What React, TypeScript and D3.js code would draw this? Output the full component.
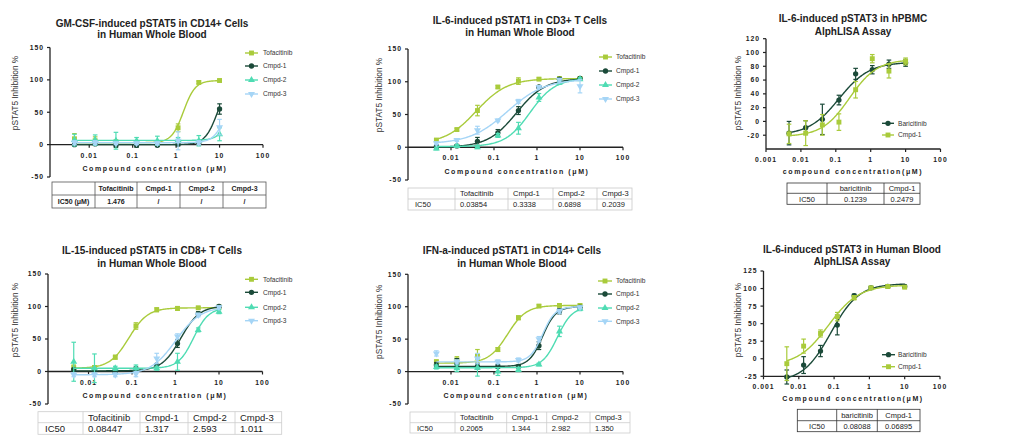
import * as d3 from 'd3'

// 3-fold dilution series used in every assay (µM)
const doses = [0.00457, 0.0137, 0.0412, 0.123, 0.37, 1.11, 3.33, 10]

const jakNames = ['Tofacitinib', 'Cmpd-1', 'Cmpd-2', 'Cmpd-3']
const alphaNames = ['Baricitinib', 'Cmpd-1']

const LIME = '#a9cb3b'
const DARK = '#1b4a39'
const TEAL = '#4fdcb3'
const SKY = '#a5d5f6'

const jakColors = [LIME, DARK, TEAL, SKY]
const jakMarkers = ['square', 'circle', 'up', 'down']
const alphaColors = [DARK, LIME]
const alphaMarkers = ['circle', 'square']

// fit params per series: [bottom, top, IC50, hill]
const gmcsfMean = [
  [9, 6, 4, 3, 2, 26, 96, 99],
  [0, 1, -1, -1, -1, 1, 3, 55],
  [7, 7, 6, 6, 6, 7, 6, 16],
  [3, 3, 2, 2, 2, 6, 3, 27],
]
const gmcsfErr = [
  [8, 6, 3, 2, 2, 6, 2, 2],
  [2, 2, 3, 3, 2, 3, 2, 8],
  [9, 8, 13, 5, 7, 4, 8, 10],
  [3, 3, 2, 2, 2, 14, 3, 12],
]
const gmcsfFit = [[3, 99, 1.476, 3.2], [0, 100, 9, 3], [6.5, 100, 20, 3], [3, 100, 15, 3]]
const gmcsfIC50 = ['1.476', '/', '/', '/']

const il6Mean = [
  [11, 27, 56, 92, 101, 104, 105, 105],
  [1, 2, 9, 22, 56, 92, 104, 105],
  [-2, 2, 0, 18, 29, 76, 99, 104],
  [6, 11, 26, 41, 70, 92, 103, 93],
]
const il6Err = [
  [2, 2, 8, 2, 5, 2, 1, 1],
  [3, 2, 6, 5, 6, 2, 2, 1],
  [2, 2, 2, 3, 9, 6, 3, 2],
  [2, 2, 6, 2, 3, 2, 2, 10],
]
const il6Fit = [[5, 105, 0.03854, 1.2], [0, 105, 0.3338, 1.3], [1, 105, 0.6898, 1.5], [5, 104, 0.2039, 1.0]]
const il6IC50 = ['0.03854', '0.3338', '0.6898', '0.2039']

const pbmcMean = [
  [-17, -9, 3, 31, 69, 75, 83, 85],
  [-18, -17, -5, -1, 46, 91, 73, 87],
]
const pbmcErr = [
  [17, 10, 22, 7, 8, 6, 6, 5],
  [14, 18, 15, 12, 12, 6, 10, 5],
]
const pbmcFit = [[-20, 86, 0.1239, 1.0], [-22, 90, 0.2479, 1.1]]
const pbmcIC50 = ['0.1239', '0.2479']

const il15Mean = [
  [6, 6, 22, 70, 95, 97, 98, 99],
  [3, 2, -2, 4, 10, 43, 89, 100],
  [15, 5, 5, 5, 5, 15, 64, 92],
  [-5, -5, -5, -4, 20, 54, 87, 99],
]
const il15Err = [
  [4, 3, 3, 5, 3, 3, 2, 1],
  [2, 2, 2, 3, 2, 6, 3, 2],
  [30, 22, 3, 5, 3, 13, 3, 3],
  [3, 3, 3, 4, 8, 4, 3, 2],
]
const il15Fit = [[5, 98, 0.08447, 2.0], [1, 101, 1.317, 2.0], [5, 98, 2.593, 2.5], [-5, 100, 1.011, 1.5]]
const il15IC50 = ['0.08447', '1.317', '2.593', '1.011']

const ifnMean = [
  [15, 18, 24, 34, 83, 101, 102, 102],
  [10, 12, 8, 8, 8, 40, 93, 99],
  [7, 5, 6, 0, 3, 11, 62, 97],
  [28, 15, 20, 15, 18, 50, 93, 99],
]
const ifnErr = [
  [3, 5, 10, 3, 3, 2, 2, 2],
  [4, 8, 4, 3, 2, 6, 4, 3],
  [3, 5, 13, 6, 3, 2, 8, 3],
  [4, 3, 8, 3, 3, 4, 3, 2],
]
const ifnFit = [[13, 102, 0.2065, 2.0], [8, 100, 1.344, 2.8], [6, 100, 2.982, 2.5], [15, 100, 1.35, 3]]
const ifnIC50 = ['0.2065', '1.344', '2.982', '1.350']

const bloodMean = [
  [-26, -9, 11, 48, 90, 101, 103, 103],
  [-7, 18, 36, 60, 87, 101, 103, 102],
]
const bloodErr = [
  [10, 12, 8, 14, 2, 2, 2, 2],
  [24, 10, 5, 6, 3, 2, 2, 2],
]
const bloodFit = [[-33, 107, 0.08088, 1.1], [-10, 105, 0.06895, 1.0]]
const bloodIC50 = ['0.08088', '0.06895']

const FONT = '"Liberation Sans", Arial, sans-serif'

type Table = {
  cols: number[]
  rows: number[]
  header: string[]
  values: string[]
  bold: boolean
  border: string
  size: number
  center: boolean
}

type Cfg = {
  title: string[]
  titleX: number
  titleY: number[]
  xRange: number[]
  xDomain: number[]
  yRange: number[]
  yDomain: number[]
  yTicks: number[]
  xTicks: number[]
  xAxisAt: number
  xLabel: string
  xLabelPos: number[]
  yLabelPos: number[]
  names: string[]
  colors: string[]
  markers: string[]
  mean: number[][]
  err: number[][]
  fit: number[][]
  legend: { x1: number; x2: number; tx: number; ys: number[] }
  table: Table
}

const logistic = (d: number, f: number[]) => f[0] + (f[1] - f[0]) / (1 + Math.pow(f[2] / d, f[3]))

function symbolPath(kind: string, size: number) {
  const t = kind === 'square' ? d3.symbolSquare : kind === 'circle' ? d3.symbolCircle : d3.symbolTriangle
  return d3.symbol().type(t).size(size)() as string
}

function Marker({ kind, x, y, color }: { kind: string; x: number; y: number; color: string }) {
  const size = kind === 'circle' ? 22 : kind === 'square' ? 24 : 21
  const rot = kind === 'down' ? ' rotate(180)' : ''
  return <path d={symbolPath(kind, size)} transform={`translate(${x},${y})${rot}`} fill={color} />
}

function fmtDose(v: number) {
  return v >= 1 ? String(v) : String(+v.toPrecision(1))
}

function Panel({ c }: { c: Cfg }) {
  const x = d3.scaleLog().domain(c.xDomain).range(c.xRange)
  const y = d3.scaleLinear().domain(c.yDomain).range(c.yRange)
  const axisY = y(c.xAxisAt)
  const lo = Math.log10(doses[0])
  const hi = Math.log10(doses[doses.length - 1])
  const grid = d3.range(0, 151).map(i => Math.pow(10, lo + ((hi - lo) * i) / 150))

  const t = c.table
  return (
    <g fontFamily={FONT}>
      {c.title.map((s, i) => (
        <text key={i} x={c.titleX} y={c.titleY[i]} textAnchor="middle" fontSize={10} fontWeight="bold" fill="#222">
          {s}
        </text>
      ))}

      {/* y axis */}
      <line x1={c.xRange[0]} x2={c.xRange[0]} y1={c.yRange[0]} y2={c.yRange[1]} stroke="#222" strokeWidth={1.3} />
      {c.yTicks.map(v => (
        <g key={v}>
          <line x1={c.xRange[0] - 3} x2={c.xRange[0]} y1={y(v)} y2={y(v)} stroke="#222" strokeWidth={1.2} />
          <text x={c.xRange[0] - 6} y={y(v) + 2.4} textAnchor="end" fontSize={6.8} fontWeight="bold" letterSpacing={1} fill="#222">
            {v}
          </text>
        </g>
      ))}
      <text
        transform={`translate(${c.yLabelPos[0]},${c.yLabelPos[1]}) rotate(-90)`}
        textAnchor="middle"
        fontSize={8.3}
        fill="#333"
        dy="0.35em"
      >
        pSTAT5 Inhibition %
      </text>

      {/* x axis */}
      <line x1={c.xRange[0]} x2={c.xRange[1]} y1={axisY} y2={axisY} stroke="#222" strokeWidth={1.3} />
      {c.xTicks.map(v => (
        <g key={v}>
          <line x1={x(v)} x2={x(v)} y1={axisY} y2={axisY + 3} stroke="#222" strokeWidth={1.2} />
          <text x={x(v)} y={axisY + 13} textAnchor="middle" fontSize={6.8} fontWeight="bold" letterSpacing={1} fill="#222">
            {fmtDose(v)}
          </text>
        </g>
      ))}
      <text x={c.xLabelPos[0]} y={c.xLabelPos[1]} textAnchor="middle" fontSize={7} fontWeight="bold" letterSpacing={1.6} fill="#222">
        {c.xLabel}
      </text>

      {/* series */}
      {c.names.map((name, s) => {
        const line = d3
          .line<number>()
          .x(d => x(d))
          .y(d => y(logistic(d, c.fit[s])))
        return (
          <g key={name}>
            <path d={line(grid) as string} fill="none" stroke={c.colors[s]} strokeWidth={1.4} />
            {doses.map((d, i) => {
              const m = c.mean[s][i]
              const e = c.err[s][i]
              const px = x(d)
              return (
                <g key={i} stroke={c.colors[s]} strokeWidth={1.2}>
                  <line x1={px} x2={px} y1={y(m - e)} y2={y(m + e)} />
                  <line x1={px - 2.3} x2={px + 2.3} y1={y(m - e)} y2={y(m - e)} />
                  <line x1={px - 2.3} x2={px + 2.3} y1={y(m + e)} y2={y(m + e)} />
                </g>
              )
            })}
            {doses.map((d, i) => (
              <Marker key={i} kind={c.markers[s]} x={x(d)} y={y(c.mean[s][i])} color={c.colors[s]} />
            ))}
          </g>
        )
      })}

      {/* legend */}
      {c.names.map((name, s) => {
        const ly = c.legend.ys[s]
        return (
          <g key={name}>
            <line x1={c.legend.x1} x2={c.legend.x2} y1={ly} y2={ly} stroke={c.colors[s]} strokeWidth={1.4} />
            <Marker kind={c.markers[s]} x={(c.legend.x1 + c.legend.x2) / 2} y={ly} color={c.colors[s]} />
            <text x={c.legend.tx} y={ly + 2.2} fontSize={6.6} fill="#333">
              {name}
            </text>
          </g>
        )
      })}

      {/* IC50 table */}
      <g>
        <rect
          x={t.cols[0]}
          y={t.rows[0]}
          width={t.cols[t.cols.length - 1] - t.cols[0]}
          height={t.rows[2] - t.rows[0]}
          fill="#fff"
          stroke={t.border}
          strokeWidth={0.8}
        />
        <line x1={t.cols[0]} x2={t.cols[t.cols.length - 1]} y1={t.rows[1]} y2={t.rows[1]} stroke={t.border} strokeWidth={0.8} />
        {t.cols.slice(1, -1).map(cx => (
          <line key={cx} x1={cx} x2={cx} y1={t.rows[0]} y2={t.rows[2]} stroke={t.border} strokeWidth={0.8} />
        ))}
        {[t.header, t.values].map((row, r) =>
          row.map((txt, k) => {
            const cx = t.center ? (t.cols[k] + t.cols[k + 1]) / 2 : t.cols[k] + (k === 0 ? 7 : 5)
            const cy = (t.rows[r] + t.rows[r + 1]) / 2
            return (
              <text
                key={r + '-' + k}
                x={cx}
                y={cy}
                dy="0.36em"
                textAnchor={t.center ? 'middle' : 'start'}
                fontSize={t.size}
                fontWeight={t.bold ? 'bold' : 'normal'}
                fill="#222"
              >
                {txt}
              </text>
            )
          })
        )}
      </g>
    </g>
  )
}

const jakTicksX = [0.01, 0.1, 1, 10, 100]
const allTicksX = [0.001, 0.01, 0.1, 1, 10, 100]
const pctTicks = [-50, 0, 50, 100, 150]

const panels: Cfg[] = [
  {
    title: ['GM-CSF-induced pSTAT5 in CD14+ Cells', 'in Human Whole Blood'],
    titleX: 152,
    titleY: [26.5, 38],
    xRange: [50, 263],
    xDomain: [0.00125, 100],
    yRange: [177, 47.5],
    yDomain: [-50, 150],
    yTicks: pctTicks,
    xTicks: jakTicksX,
    xAxisAt: 0,
    xLabel: 'Compound concentration (μM)',
    xLabelPos: [155, 170.5],
    yLabelPos: [15, 93],
    names: jakNames,
    colors: jakColors,
    markers: jakMarkers,
    mean: gmcsfMean,
    err: gmcsfErr,
    fit: gmcsfFit,
    legend: { x1: 245, x2: 258, tx: 263, ys: [53, 66, 80, 94] },
    table: {
      cols: [52, 95, 137, 180, 223, 266],
      rows: [182, 195, 208],
      header: ['', ...jakNames],
      values: ['IC50 (μM)', ...gmcsfIC50],
      bold: true,
      border: '#555',
      size: 7,
      center: true,
    },
  },
  {
    title: ['IL-6-induced pSTAT1 in CD3+ T Cells', 'in Human Whole Blood'],
    titleX: 520,
    titleY: [23.5, 36],
    xRange: [408, 623],
    xDomain: [0.001, 100],
    yRange: [180, 49],
    yDomain: [-50, 150],
    yTicks: pctTicks,
    xTicks: jakTicksX,
    xAxisAt: 0,
    xLabel: 'Compound concentration (μM)',
    xLabelPos: [517, 174],
    yLabelPos: [379, 95],
    names: jakNames,
    colors: jakColors,
    markers: jakMarkers,
    mean: il6Mean,
    err: il6Err,
    fit: il6Fit,
    legend: { x1: 599, x2: 612, tx: 616, ys: [57, 71, 85, 99] },
    table: {
      cols: [408, 455, 508, 553, 597, 632],
      rows: [188, 199, 210],
      header: ['', ...jakNames],
      values: ['IC50', ...il6IC50],
      bold: false,
      border: '#c8c8c8',
      size: 7.5,
      center: false,
    },
  },
  {
    title: ['IL-6-induced pSTAT3 in hPBMC', 'AlphLISA Assay'],
    titleX: 853,
    titleY: [22, 34.5],
    xRange: [766, 940.5],
    xDomain: [0.001, 100],
    yRange: [149, 38.7],
    yDomain: [-40, 120],
    yTicks: [-20, 0, 20, 40, 60, 80, 100, 120],
    xTicks: allTicksX,
    xAxisAt: -40,
    xLabel: 'compound concentration(μM)',
    xLabelPos: [853, 174],
    yLabelPos: [738, 93],
    names: alphaNames,
    colors: alphaColors,
    markers: alphaMarkers,
    mean: pbmcMean,
    err: pbmcErr,
    fit: pbmcFit,
    legend: { x1: 882, x2: 894, tx: 898, ys: [123.3, 135] },
    table: {
      cols: [787, 827, 884, 920],
      rows: [183, 193.3, 204.3],
      header: ['', 'baricitinib', 'Cmpd-1'],
      values: ['IC50', ...pbmcIC50],
      bold: false,
      border: '#333',
      size: 7.5,
      center: true,
    },
  },
  {
    title: ['IL-15-induced pSTAT5 in CD8+ T Cells', 'in Human Whole Blood'],
    titleX: 152,
    titleY: [254, 266.5],
    xRange: [48, 262.5],
    xDomain: [0.00117, 100],
    yRange: [404, 274],
    yDomain: [-50, 150],
    yTicks: pctTicks,
    xTicks: jakTicksX,
    xAxisAt: 0,
    xLabel: 'Compound concentration (μM)',
    xLabelPos: [155, 398],
    yLabelPos: [15, 320],
    names: jakNames,
    colors: jakColors,
    markers: jakMarkers,
    mean: il15Mean,
    err: il15Err,
    fit: il15Fit,
    legend: { x1: 245, x2: 258, tx: 263, ys: [279.3, 292.3, 307.3, 320.7] },
    table: {
      cols: [38, 83, 140, 188, 235, 281.7],
      rows: [411.7, 422.7, 434.3],
      header: ['', ...jakNames],
      values: ['IC50', ...il15IC50],
      bold: false,
      border: '#ccc',
      size: 9.5,
      center: false,
    },
  },
  {
    title: ['IFN-a-induced pSTAT1 in CD14+ Cells', 'in Human Whole Blood'],
    titleX: 512,
    titleY: [254, 266.5],
    xRange: [408, 623],
    xDomain: [0.001, 100],
    yRange: [404, 274.3],
    yDomain: [-50, 150],
    yTicks: pctTicks,
    xTicks: jakTicksX,
    xAxisAt: 0,
    xLabel: 'Compound concentration (μM)',
    xLabelPos: [516, 397.5],
    yLabelPos: [379, 321.7],
    names: jakNames,
    colors: jakColors,
    markers: jakMarkers,
    mean: ifnMean,
    err: ifnErr,
    fit: ifnFit,
    legend: { x1: 598, x2: 612, tx: 616, ys: [281, 294, 308, 321.3] },
    table: {
      cols: [410, 455, 506.7, 546.7, 590, 630],
      rows: [412, 422.7, 433],
      header: ['', ...jakNames],
      values: ['IC50', ...ifnIC50],
      bold: false,
      border: '#ccc',
      size: 7.5,
      center: false,
    },
  },
  {
    title: ['IL-6-induced pSTAT3 in Human Blood', 'AlphLISA Assay'],
    titleX: 852,
    titleY: [252.5, 265],
    xRange: [763.5, 940],
    xDomain: [0.001, 100],
    yRange: [376.3, 271],
    yDomain: [-25, 125],
    yTicks: [-25, 0, 25, 50, 75, 100, 125],
    xTicks: allTicksX,
    xAxisAt: -25,
    xLabel: 'Compound concentration(μM)',
    xLabelPos: [853, 401],
    yLabelPos: [738, 320],
    names: alphaNames,
    colors: alphaColors,
    markers: alphaMarkers,
    mean: bloodMean,
    err: bloodErr,
    fit: bloodFit,
    legend: { x1: 882, x2: 895, tx: 898, ys: [354.7, 366.7] },
    table: {
      cols: [797.3, 836.7, 877.3, 920],
      rows: [409.3, 420.7, 431.7],
      header: ['', 'baricitinib', 'Cmpd-1'],
      values: ['IC50', ...bloodIC50],
      bold: false,
      border: '#333',
      size: 7.5,
      center: true,
    },
  },
]

export default function App() {
  return (
    <svg
      width={1024}
      height={442}
      style={{ position: 'absolute', left: 0, top: 0, background: '#fff' }}
    >
      <rect width={1024} height={442} fill="#fff" />
      {panels.map((p, i) => (
        <Panel key={i} c={p} />
      ))}
    </svg>
  )
}
